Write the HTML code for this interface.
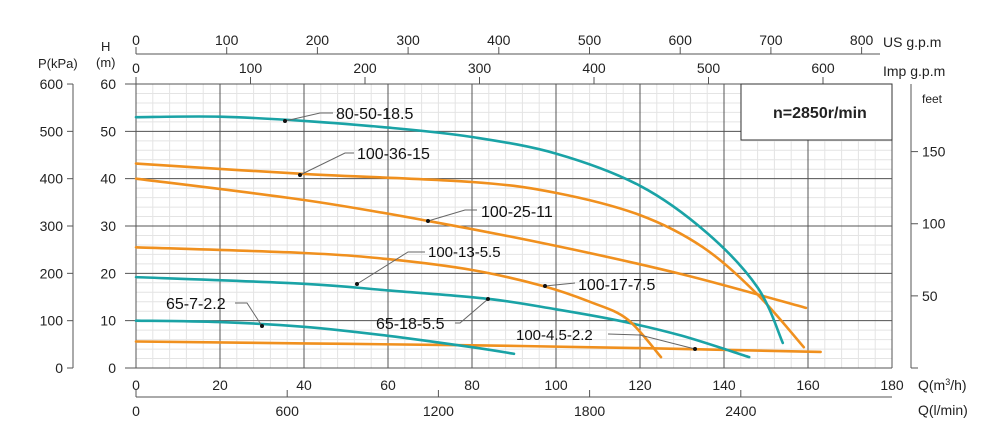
<!DOCTYPE html>
<html><head><meta charset="utf-8">
<style>
html,body{margin:0;padding:0;background:#fff;}
svg{display:block;font-family:"Liberation Sans",Arial,sans-serif;}
</style></head>
<body>
<svg id="s" width="1000" height="436" viewBox="0 0 1000 436" xmlns="http://www.w3.org/2000/svg">
<g id="grid"></g>
<g id="curves"></g>
<g fill="#222" font-size="14">
  <line x1="136" y1="54" x2="880" y2="54" stroke="#555" stroke-width="1"/>
  <g id="usg"></g>
  <text x="883" y="47" font-size="14">US g.p.m</text>
  <g id="impg"></g>
  <text x="883" y="76" font-size="14">Imp g.p.m</text>
  <text x="38" y="68" font-size="13">P(kPa)</text>
  <text x="101" y="51" font-size="13">H</text>
  <text x="96" y="67" font-size="13">(m)</text>
  <line x1="73" y1="84" x2="73" y2="368" stroke="#555"/>
  <g id="left"></g>
  <line x1="911" y1="84" x2="911" y2="368" stroke="#555"/>
  <text x="922" y="103" font-size="12">feet</text>
  <g id="feet"></g>
  <g id="bot"></g>
  <line x1="136" y1="397" x2="892" y2="397" stroke="#555"/>
  <text x="918" y="390" font-size="14">Q(m<tspan font-size="9" dy="-5">3</tspan><tspan dy="5">/h)</tspan></text>
  <text x="918" y="415" font-size="14">Q(l/min)</text>
  <rect x="741" y="84" width="151" height="56" fill="#fff" stroke="#333" stroke-width="1"/>
  <text x="773" y="118" font-size="16" font-weight="bold">n=2850r/min</text>
</g>
<g id="labels" font-size="16" fill="#111" stroke-width="1"></g>
</svg>
<script>
var NS="http://www.w3.org/2000/svg";
function el(p,t,a,txt){var e=document.createElementNS(NS,t);for(var k in a)e.setAttribute(k,a[k]);if(txt!==undefined)e.textContent=txt;p.appendChild(e);return e;}
function X(q){return 136+4.2*q;}
function Y(h){return 368-4.733*h;}
var g=document.getElementById('grid');
for(var q=0;q<=180;q+=4){el(g,'line',{x1:X(q),y1:84,x2:X(q),y2:368,stroke:'#e4e4e4','stroke-width':1});}
for(var h=0;h<=60;h+=2){el(g,'line',{x1:136,y1:Y(h),x2:892,y2:Y(h),stroke:'#e4e4e4','stroke-width':1});}
for(var q=0;q<=180;q+=20){el(g,'line',{x1:X(q),y1:84,x2:X(q),y2:368,stroke:'#555','stroke-width':1});}
for(var h=0;h<=60;h+=10){el(g,'line',{x1:125,y1:Y(h),x2:892,y2:Y(h),stroke:'#555','stroke-width':1});}
var u=document.getElementById('usg');
for(var v=0;v<=800;v+=100){var x=136+0.907*v;el(u,'line',{x1:x,y1:54,x2:x,y2:47,stroke:'#555'});el(u,'text',{x:x,y:45,'text-anchor':'middle','font-size':14},v);}
var im=document.getElementById('impg');
for(var v=0;v<=600;v+=100){var x=136+1.145*v;el(im,'line',{x1:x,y1:84,x2:x,y2:77,stroke:'#555'});el(im,'text',{x:x,y:73,'text-anchor':'middle','font-size':14},v);}
var L=document.getElementById('left');
for(var h=0;h<=60;h+=10){var y=Y(h);el(L,'text',{x:116,y:y+5,'text-anchor':'end'},h);el(L,'line',{x1:67,y1:y,x2:73,y2:y,stroke:'#555'});el(L,'text',{x:63,y:y+5,'text-anchor':'end'},h*10);}
var F=document.getElementById('feet');
[50,100,150].forEach(function(f){var y=Y(f*0.3048);el(F,'line',{x1:911,y1:y,x2:918,y2:y,stroke:'#555'});el(F,'text',{x:922,y:y+5},f);});
el(F,'line',{x1:911,y1:368,x2:918,y2:368,stroke:'#555'});
var B=document.getElementById('bot');
for(var q=0;q<=180;q+=20){el(B,'text',{x:X(q),y:390,'text-anchor':'middle','font-size':14},q);}
for(var l=0;l<=2400;l+=600){var x=X(l/1000*60);el(B,'line',{x1:x,y1:397,x2:x,y2:390,stroke:'#555'});el(B,'text',{x:x,y:416,'text-anchor':'middle','font-size':14},l);}
function path(pts){var P=pts.map(function(p){return [X(p[0]),Y(p[1])];});var d='M'+P[0][0]+','+P[0][1];
for(var i=0;i<P.length-1;i++){var p0=P[i-1]||P[i],p1=P[i],p2=P[i+1],p3=P[i+2]||P[i+1];
var c1=[p1[0]+(p2[0]-p0[0])/6,p1[1]+(p2[1]-p0[1])/6],c2=[p2[0]-(p3[0]-p1[0])/6,p2[1]-(p3[1]-p1[1])/6];
d+=' C'+c1[0].toFixed(1)+','+c1[1].toFixed(1)+' '+c2[0].toFixed(1)+','+c2[1].toFixed(1)+' '+p2[0].toFixed(1)+','+p2[1].toFixed(1);}return d;}
var T='#1aa3a6',O='#f0901e';
var C=document.getElementById('curves');
var curves=[
[O,[[0,5.6],[40,5.2],[80,4.8],[120,4.2],[163,3.4]]],
[T,[[0,10],[20,9.7],[40,8.7],[60,6.8],[80,4.4],[90,3]]],
[T,[[0,19.2],[40,17.8],[60,16.4],[84,14.6],[100,12.4],[115,10],[130,6.8],[146,2.3]]],
[O,[[0,25.5],[40,24.3],[60,23],[80,20.7],[97,17.3],[108,14],[117,10.3],[125,2.3]]],
[O,[[0,40],[40,35.5],[70,31],[100,25.8],[130,19.8],[159.5,12.7]]],
[O,[[0,43.2],[40,41],[80,39.3],[100,37],[120,32.3],[135,25.5],[148,15.5],[159,4.4]]],
[T,[[0,53],[20,53.1],[40,52.2],[60,50.8],[80,48.8],[100,45.3],[120,38.5],[136,28.5],[148,17],[154,5.3]]]
];
curves.forEach(function(c){el(C,'path',{d:path(c[1]),fill:'none',stroke:c[0],'stroke-width':2.6,'stroke-linecap':'round'});});
var Lb=document.getElementById('labels');
function lab(pts,tx,ty,txt,fs){el(Lb,'polyline',{points:pts.map(function(p){return p.join(',');}).join(' '),fill:'none',stroke:'#666','stroke-width':1});
el(Lb,'circle',{cx:pts[0][0],cy:pts[0][1],r:2,fill:'#111'});el(Lb,'text',{x:tx,y:ty,'font-size':fs||16},txt);}
lab([[285,121],[320,113],[333,113]],336,119,'80-50-18.5');
lab([[300,175],[345,153],[354,153]],357,159,'100-36-15');
lab([[428,221],[465,210],[477,210]],481,217,'100-25-11');
lab([[357,284],[408,252],[425,252]],428,257,'100-13-5.5',15);
lab([[545,286],[575,283]],578,290,'100-17-7.5');
lab([[488,299],[460,323],[455,323]],376,329,'65-18-5.5');
lab([[695,349],[640,335],[608,334]],516,340,'100-4.5-2.2',15);
lab([[262,326],[247,303],[235,303]],166,309,'65-7-2.2');
</script>
</body></html>
